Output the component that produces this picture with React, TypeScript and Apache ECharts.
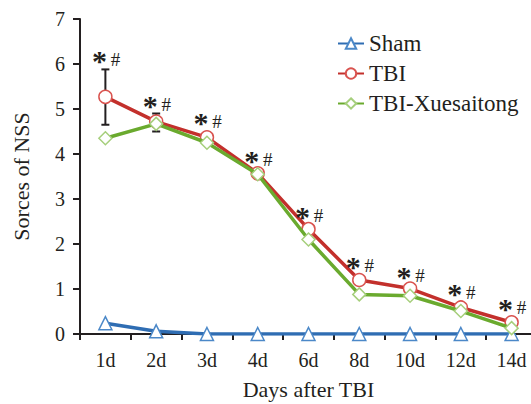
import React, { useEffect, useRef } from "react";
import * as echarts from "echarts";

const days = ["1d", "2d", "3d", "4d", "6d", "8d", "10d", "12d", "14d"];
const sham = [0.24, 0.06, 0, 0, 0, 0, 0, 0, 0];
const tbi = [5.27, 4.72, 4.37, 3.57, 2.33, 1.2, 1.01, 0.59, 0.26];
const tbiX = [4.35, 4.67, 4.25, 3.55, 2.1, 0.88, 0.85, 0.51, 0.13];
const tbiErrHigh = [5.88, 4.9, 4.46, 3.62, 2.38, 1.24, 1.05, 0.63, 0.3];
const tbiErrLow = [4.65, 4.5, 4.28, 3.52, 2.28, 1.16, 0.97, 0.55, 0.22];
const sigY = [6.11, 5.11, 4.72, 3.87, 2.64, 1.53, 1.31, 0.93, 0.58];
const yTicks = [0, 1, 2, 3, 4, 5, 6, 7];

const FONT = "Liberation Serif";
const TXT = "#231f20";

export default function App() {
  const ref = useRef<HTMLDivElement>(null);
  useEffect(() => {
    if (!ref.current) return;
    const chart = echarts.init(ref.current, null, { renderer: "svg" });
    chart.setOption({
      animation: false,
      backgroundColor: "#ffffff",
      textStyle: { fontFamily: FONT, color: TXT },
      grid: {
        left: 80,
        top: 19,
        bottom: 70,
        right: -6,
        containLabel: false,
        outerBoundsMode: "none",
      },
      legend: {
        left: 332,
        top: 27,
        orient: "vertical",
        itemWidth: 26,
        itemHeight: 13,
        itemGap: 7,
        data: ["Sham", "TBI", "TBI-Xuesaitong"],
        textStyle: { fontFamily: FONT, fontSize: 23, color: TXT, lineHeight: 23 },
      },
      xAxis: {
        type: "category",
        data: days,
        boundaryGap: true,
        name: "Days after TBI",
        nameLocation: "middle",
        nameGap: 44,
        nameTextStyle: { fontFamily: FONT, fontSize: 22, color: TXT },
        axisLine: { lineStyle: { color: TXT, width: 2 } },
        axisTick: { show: true, inside: false, length: 6, lineStyle: { color: TXT, width: 2 } },
        axisLabel: { fontFamily: FONT, fontSize: 20, color: TXT, margin: 16 },
      },
      yAxis: {
        type: "value",
        min: yTicks[0],
        max: yTicks[yTicks.length - 1],
        interval: 1,
        name: "Sorces of NSS",
        nameLocation: "middle",
        nameGap: 48,
        nameTextStyle: { fontFamily: FONT, fontSize: 22, color: TXT },
        splitLine: { show: false },
        axisLine: { show: true, lineStyle: { color: TXT, width: 2 } },
        axisTick: { show: true, inside: false, length: 7, lineStyle: { color: TXT, width: 2 } },
        axisLabel: { fontFamily: FONT, fontSize: 20, color: TXT, margin: 15 },
      },
      series: [
        {
          name: "Sham",
          type: "line",
          data: sham,
          symbol: "triangle",
          symbolSize: 13,
          lineStyle: { color: "#2f6db3", width: 3.5 },
          itemStyle: { color: "#ffffff", borderColor: "#4b88c8", borderWidth: 1.5 },
          z: 3,
        },
        {
          name: "TBI-err",
          type: "custom",
          data: days.map((_, i) => [i, tbiErrLow[i], tbiErrHigh[i]]),
          renderItem: (params: any, api: any) => {
            const x = api.value(0);
            const lo = api.coord([x, api.value(1)]);
            const hi = api.coord([x, api.value(2)]);
            const cap = 4;
            const st = { stroke: "#231f20", lineWidth: 2 };
            return {
              type: "group",
              children: [
                { type: "line", shape: { x1: lo[0], y1: lo[1], x2: hi[0], y2: hi[1] }, style: st },
                { type: "line", shape: { x1: hi[0] - cap, y1: hi[1], x2: hi[0] + cap, y2: hi[1] }, style: st },
                { type: "line", shape: { x1: lo[0] - cap, y1: lo[1], x2: lo[0] + cap, y2: lo[1] }, style: st },
              ],
            };
          },
          z: 2,
          silent: true,
        },
        {
          name: "TBI",
          type: "line",
          data: tbi,
          symbol: "circle",
          symbolSize: 13,
          lineStyle: { color: "#c3302c", width: 3.5 },
          itemStyle: { color: "#ffffff", borderColor: "#d9534f", borderWidth: 1.5 },
          z: 4,
        },
        {
          name: "TBI-Xuesaitong",
          type: "line",
          data: tbiX,
          symbol: "diamond",
          symbolSize: 13,
          lineStyle: { color: "#6aaa2e", width: 3.5 },
          itemStyle: { color: "#ffffff", borderColor: "#a6cf7c", borderWidth: 1.5 },
          z: 5,
        },
        {
          name: "sig",
          type: "custom",
          data: days.map((_, i) => [i, sigY[i]]),
          silent: true,
          renderItem: (params: any, api: any) => {
            const p = api.coord([api.value(0), api.value(1)]);
            return {
              type: "group",
              children: [
                {
                  type: "text",
                  x: p[0] - 6,
                  y: p[1] + 1,
                  style: {
                    text: "*",
                    fontFamily: FONT,
                    fontSize: 30,
                    fontWeight: "bold",
                    fill: TXT,
                    align: "center",
                    verticalAlign: "middle",
                  },
                },
                {
                  type: "text",
                  x: p[0] + 10,
                  y: p[1],
                  style: {
                    text: "#",
                    fontFamily: FONT,
                    fontSize: 19,
                    fill: TXT,
                    align: "center",
                    verticalAlign: "middle",
                  },
                },
              ],
            };
          },
          z: 6,
        },
      ],
    });
    return () => chart.dispose();
  }, []);
  return <div ref={ref} style={{ width: 531, height: 404, position: "absolute", left: 0, top: 0 }} />;
}
